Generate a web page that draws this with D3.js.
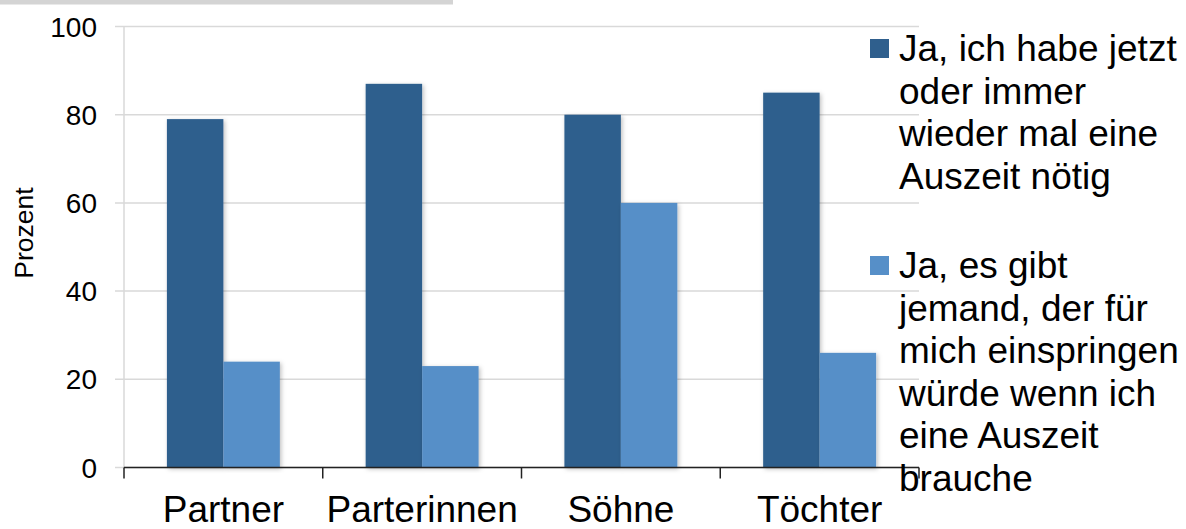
<!DOCTYPE html>
<html>
<head>
<meta charset="utf-8">
<script src="https://cdn.jsdelivr.net/npm/d3@7"></script>
<style>
  body { margin: 0; background: #fff; }
  svg { display: block; font-family: "Liberation Sans", Arial, sans-serif; }
  .grid line { stroke: #d9d9d9; stroke-width: 1.5; }
</style>
</head>
<body>
<svg id="chart" width="1186" height="529"></svg>
<script>
var categories = ['Partner', 'Parterinnen', 'Söhne', 'Töchter'];
var seriesNames = [
  'Ja, ich habe jetzt|oder immer|wieder mal eine|Auszeit nötig',
  'Ja, es gibt|jemand, der für|mich einspringen|würde wenn ich|eine Auszeit|brauche'
];
var auszeitNoetig = [79, 87, 80, 85];
var einspringen = [24, 23, 60, 26];
var yTicks = [0, 20, 40, 60, 80, 100];
var colors = ['#2f5f8d', '#568fc8'];

var svg = d3.select('#chart');

var defs = svg.append('defs');
var f = defs.append('filter').attr('id', 'shadow').attr('x', '-20%').attr('y', '-5%').attr('width', '140%').attr('height', '110%');
f.append('feDropShadow').attr('dx', 1.5).attr('dy', 1.5).attr('stdDeviation', 2).attr('flood-color', '#000').attr('flood-opacity', 0.25);

// gray strip at the top
svg.append('rect').attr('x', 0).attr('y', 0).attr('width', 453).attr('height', 4.5).attr('fill', '#d4d4d4');

var x = d3.scaleBand().domain(categories).range([124, 919]).paddingInner(0).paddingOuter(0);
var xs = d3.scaleBand().domain([0, 1]).range([0, x.bandwidth()]).paddingInner(0).paddingOuter(0.76);
var y = d3.scaleLinear().domain([0, 100]).range([467.5, 26.5]);

// gridlines
svg.append('g').attr('class', 'grid')
  .selectAll('line').data(yTicks).enter().append('line')
  .attr('x1', 115).attr('x2', 919)
  .attr('y1', function(d) { return y(d); })
  .attr('y2', function(d) { return y(d); });

// y axis line
svg.append('line').attr('x1', 124).attr('x2', 124).attr('y1', y(100)).attr('y2', y(0))
  .attr('stroke', '#d9d9d9').attr('stroke-width', 1.5);

// y tick labels
svg.append('g').selectAll('text').data(yTicks).enter().append('text')
  .attr('x', 97).attr('y', function(d) { return y(d); })
  .attr('dy', '0.36em')
  .attr('text-anchor', 'end')
  .style('font-size', '28px')
  .attr('fill', '#000')
  .text(function(d) { return d; });

// y title
svg.append('text')
  .attr('transform', 'translate(33,233) rotate(-90)')
  .attr('text-anchor', 'middle')
  .style('font-size', '26.5px')
  .text('Prozent');

// bars
var rows = categories.map(function(c, i) { return {cat: c, vals: [auszeitNoetig[i], einspringen[i]]}; });
var group = svg.append('g').selectAll('g').data(rows).enter().append('g')
  .attr('transform', function(d) { return 'translate(' + x(d.cat) + ',0)'; });

group.selectAll('rect').data(function(d) { return d.vals; }).enter().append('rect')
  .attr('x', function(d, i) { return xs(i); })
  .attr('width', xs.bandwidth())
  .attr('y', function(d) { return y(d); })
  .attr('height', function(d) { return y(0) - y(d); })
  .attr('fill', function(d, i) { return colors[i]; })
  .attr('filter', 'url(#shadow)');

// x axis
var xAxis = svg.append('g');
xAxis.append('line').attr('x1', 124).attr('x2', 919).attr('y1', y(0)).attr('y2', y(0))
  .attr('stroke', '#222').attr('stroke-width', 1.5);
var boundaries = categories.map(function(c) { return x(c); }).concat([x.range()[1]]);
xAxis.selectAll('.tick').data(boundaries).enter().append('line')
  .attr('x1', function(d) { return d; }).attr('x2', function(d) { return d; })
  .attr('y1', y(0)).attr('y2', y(0) + 11)
  .attr('stroke', '#222').attr('stroke-width', 1.5);
xAxis.selectAll('text').data(categories).enter().append('text')
  .attr('x', function(d) { return x(d) + x.bandwidth() / 2; })
  .attr('y', 522)
  .attr('text-anchor', 'middle')
  .style('font-size', '37px')
  .text(function(d) { return d; });

// legend
var legendTop = [61, 278];
var legend = svg.append('g').selectAll('g').data(seriesNames).enter().append('g')
  .attr('transform', function(d, i) { return 'translate(870,' + legendTop[i] + ')'; });
legend.append('rect').attr('x', 0).attr('y', -22).attr('width', 19).attr('height', 19)
  .attr('fill', function(d, i) { return colors[i]; });
legend.append('text')
  .style('font-size', '37px')
  .attr('fill', '#000')
  .selectAll('tspan').data(function(d) { return d.split('|'); }).enter().append('tspan')
  .attr('x', 29)
  .attr('y', function(d, i) { return i * 42.6; })
  .text(function(d) { return d; });
</script>
</body>
</html>
